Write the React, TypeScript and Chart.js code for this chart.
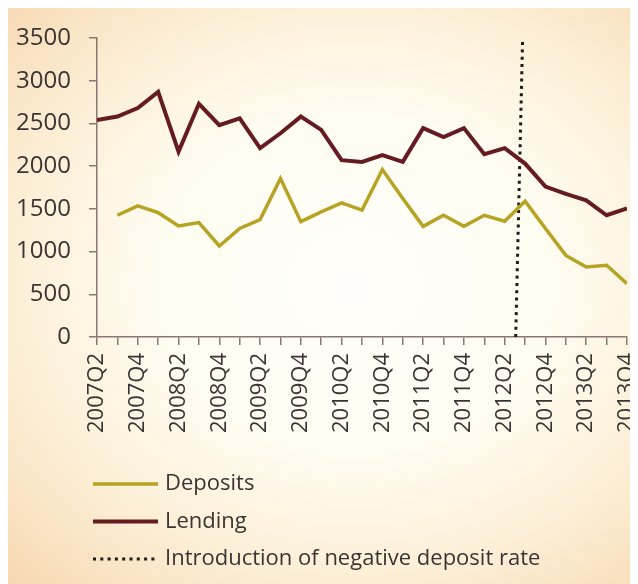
import React, { useEffect, useRef } from "react";
import { Chart, registerables } from "chart.js";

Chart.register(...registerables);

const quarters = [
  "2007Q2", "2007Q3", "2007Q4",
  "2008Q1", "2008Q2", "2008Q3", "2008Q4",
  "2009Q1", "2009Q2", "2009Q3", "2009Q4",
  "2010Q1", "2010Q2", "2010Q3", "2010Q4",
  "2011Q1", "2011Q2", "2011Q3", "2011Q4",
  "2012Q1", "2012Q2", "2012Q3", "2012Q4",
  "2013Q1", "2013Q2", "2013Q3", "2013Q4",
];

const deposits: (number | null)[] = [
  null, 1425, 1535, 1455, 1300, 1340, 1065, 1270, 1375, 1855, 1350, 1465,
  1570, 1485, 1960, 1620, 1295, 1425, 1295, 1425, 1355, 1590, 1270, 955,
  820, 840, 625,
];

const lending = [
  2540, 2580, 2680, 2870, 2170, 2730, 2480, 2560, 2210, 2385, 2580, 2425,
  2070, 2050, 2130, 2050, 2445, 2340, 2445, 2140, 2210, 2030, 1760, 1675,
  1600, 1425, 1505,
];

// Vertical dotted marker (introduction of negative deposit rate), x in quarter index units
const markerX = [20.54, 20.88];
const markerY = [0, 3500];

const yTicks = [0, 500, 1000, 1500, 2000, 2500, 3000, 3500];

const seriesLabels = ["Deposits", "Lending", "Introduction of negative deposit rate"];

const TEXT = "#3a3434";
const AXIS = "#8a7674";
const FONT = "'Open Sans', sans-serif";

const legendPlugin = {
  id: "stackedLegend",
  afterDraw(chart: any) {
    const ctx = chart.ctx;
    const ds = chart.data.datasets;
    const x0 = 85;
    const x1 = 150;
    const tx = 157;
    const y0 = 476;
    const gap = 37.5;
    ctx.save();
    ds.forEach((d: any, i: number) => {
      const y = y0 + i * gap;
      ctx.beginPath();
      ctx.strokeStyle = d.borderColor;
      ctx.lineWidth = d.borderWidth;
      ctx.setLineDash(d.borderDash || []);
      ctx.moveTo(x0, y);
      ctx.lineTo(x1, y);
      ctx.stroke();
      ctx.setLineDash([]);
      ctx.fillStyle = TEXT;
      ctx.font = `22px ${FONT}`;
      ctx.textBaseline = "middle";
      ctx.textAlign = "left";
      ctx.fillText(d.label, tx, y);
    });
    ctx.restore();
  },
};

export default function App() {
  const ref = useRef<HTMLCanvasElement>(null);

  useEffect(() => {
    if (!ref.current) return;
    const chart = new Chart(ref.current, {
      type: "line",
      data: {
        datasets: [
          {
            label: seriesLabels[0],
            data: quarters.map((_, i) => ({ x: i, y: deposits[i] })),
            borderColor: "#b7a323",
            borderWidth: 3.5,
            pointRadius: 0,
            tension: 0,
          },
          {
            label: seriesLabels[1],
            data: quarters.map((_, i) => ({ x: i, y: lending[i] })),
            borderColor: "#641b21",
            borderWidth: 4,
            pointRadius: 0,
            tension: 0,
          },
          {
            label: seriesLabels[2],
            data: markerX.map((x, i) => ({ x, y: markerY[i] })),
            borderColor: "#1c1a1a",
            borderWidth: 3,
            borderDash: [3, 4.3],
            pointRadius: 0,
            tension: 0,
          },
        ] as any,
      },
      options: {
        animation: false,
        responsive: true,
        maintainAspectRatio: false,
        layout: { padding: { top: 30, right: 11, left: 0, bottom: 147 } },
        plugins: {
          legend: { display: false },
          tooltip: { enabled: false },
        },
        scales: {
          x: {
            type: "linear",
            min: 0,
            max: quarters.length - 1,
            afterFit: (s: any) => {
              s.height = 100;
              s.paddingLeft = 0;
              s.paddingRight = 0;
            },
            afterBuildTicks: (s: any) => {
              s.ticks = quarters.map((_, i) => ({ value: i }));
            },
            ticks: {
              autoSkip: false,
              minRotation: 90,
              maxRotation: 90,
              padding: 8,
              color: TEXT,
              font: { family: FONT, size: 22 },
              callback: (v: any) => (v % 2 === 0 ? quarters[v] : ""),
            },
            grid: {
              display: true,
              drawOnChartArea: false,
              drawTicks: true,
              tickLength: 8,
              color: AXIS,
              lineWidth: 1.5,
            },
            border: { display: true, color: AXIS, width: 1.5 },
          },
          y: {
            min: 0,
            max: 3500,
            afterFit: (s: any) => {
              s.width = 89;
              s.paddingTop = 0;
              s.paddingBottom = 0;
            },
            afterBuildTicks: (s: any) => {
              s.ticks = yTicks.map((v) => ({ value: v }));
            },
            ticks: {
              padding: 18,
              color: TEXT,
              font: { family: FONT, size: 24 },
              callback: (v: any) => String(v),
            },
            grid: {
              display: true,
              drawOnChartArea: false,
              drawTicks: true,
              tickLength: 8,
              color: AXIS,
              lineWidth: 1.5,
            },
            border: { display: true, color: AXIS, width: 1.5 },
          },
        },
      },
      plugins: [legendPlugin],
    });
    return () => chart.destroy();
  }, []);

  return (
    <div
      style={{
        position: "relative",
        width: 630,
        height: 576,
        background:
          "radial-gradient(ellipse 78% 72% at 55% 48%, #fffefa 0%, #fffcf1 40%, #fcefd6 70%, #f7d8b2 100%)",
      }}
    >
      <canvas ref={ref} />
    </div>
  );
}
